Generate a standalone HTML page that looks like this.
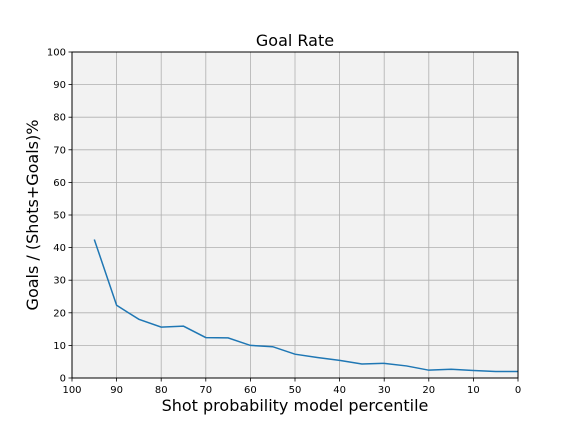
<!DOCTYPE html>
<html><head><meta charset="utf-8"><style>
html,body{margin:0;padding:0;background:#fff;}
svg{display:block;font-family:"DejaVu Sans","Liberation Sans",sans-serif;}
</style></head><body>
<svg id="chart" width="576" height="432">
<rect x="0" y="0" width="576" height="432" fill="#fff"/>
<rect x="72" y="52" width="446" height="326" fill="#f2f2f2"/>
<g id="grid"></g>
<g id="ticks"></g>
<polyline id="line" fill="none" stroke="#1f77b4" stroke-width="1.5"/>
<rect x="72" y="52" width="446" height="326" fill="none" stroke="#000" stroke-width="1"/>
<text x="295" y="46" text-anchor="middle" font-size="16">Goal Rate</text>
<text x="295" y="411" text-anchor="middle" font-size="16">Shot probability model percentile</text>
<text transform="translate(38,215) rotate(-90)" text-anchor="middle" font-size="16">Goals / (Shots+Goals)%</text>
</svg>
<script>
const percentiles=[95,90,85,80,75,70,65,60,55,50,45,40,35,30,25,20,15,10,5,0];
const goalRates=[42.5,22.3,18,15.6,15.9,12.4,12.3,10,9.6,7.3,6.3,5.4,4.3,4.5,3.7,2.4,2.7,2.3,2.0,2.0];
const xTicks=[100,90,80,70,60,50,40,30,20,10,0];
const yTicks=[0,10,20,30,40,50,60,70,80,90,100];
const X0=72,X1=518,Y0=378,Y1=52;
function xs(v){return X0+(100-v)/100*(X1-X0);}
function ys(v){return Y0-v/100*(Y0-Y1);}
const NS="http://www.w3.org/2000/svg";
const grid=document.getElementById('grid'),ticks=document.getElementById('ticks');
function mk(t,a,p){const e=document.createElementNS(NS,t);for(const k in a)e.setAttribute(k,a[k]);p.appendChild(e);return e;}
xTicks.forEach(v=>{const x=xs(v);
const g=mk('line',{x1:x,x2:x,y1:Y1,y2:Y0,stroke:'#b0b0b0','stroke-width':0.8},grid);


const t=mk('line',{x1:x,x2:x,y1:Y0,y2:Y0+3.5,stroke:'#000','stroke-width':0.8},ticks);


const l=mk('text',{x:x,y:Y0+15,'text-anchor':'middle','font-size':10},ticks);l.textContent=v;

});
yTicks.forEach(v=>{const y=ys(v);
const g=mk('line',{x1:X0,x2:X1,y1:y,y2:y,stroke:'#b0b0b0','stroke-width':0.8},grid);


const t=mk('line',{x1:X0-3.5,x2:X0,y1:y,y2:y,stroke:'#000','stroke-width':0.8},ticks);


const l=mk('text',{x:X0-6,y:y+3.5,'text-anchor':'end','font-size':10},ticks);l.textContent=v;

});
document.getElementById('line').setAttribute('points',percentiles.map((p,i)=>xs(p)+','+ys(goalRates[i])).join(' '));
</script>
</body></html>
